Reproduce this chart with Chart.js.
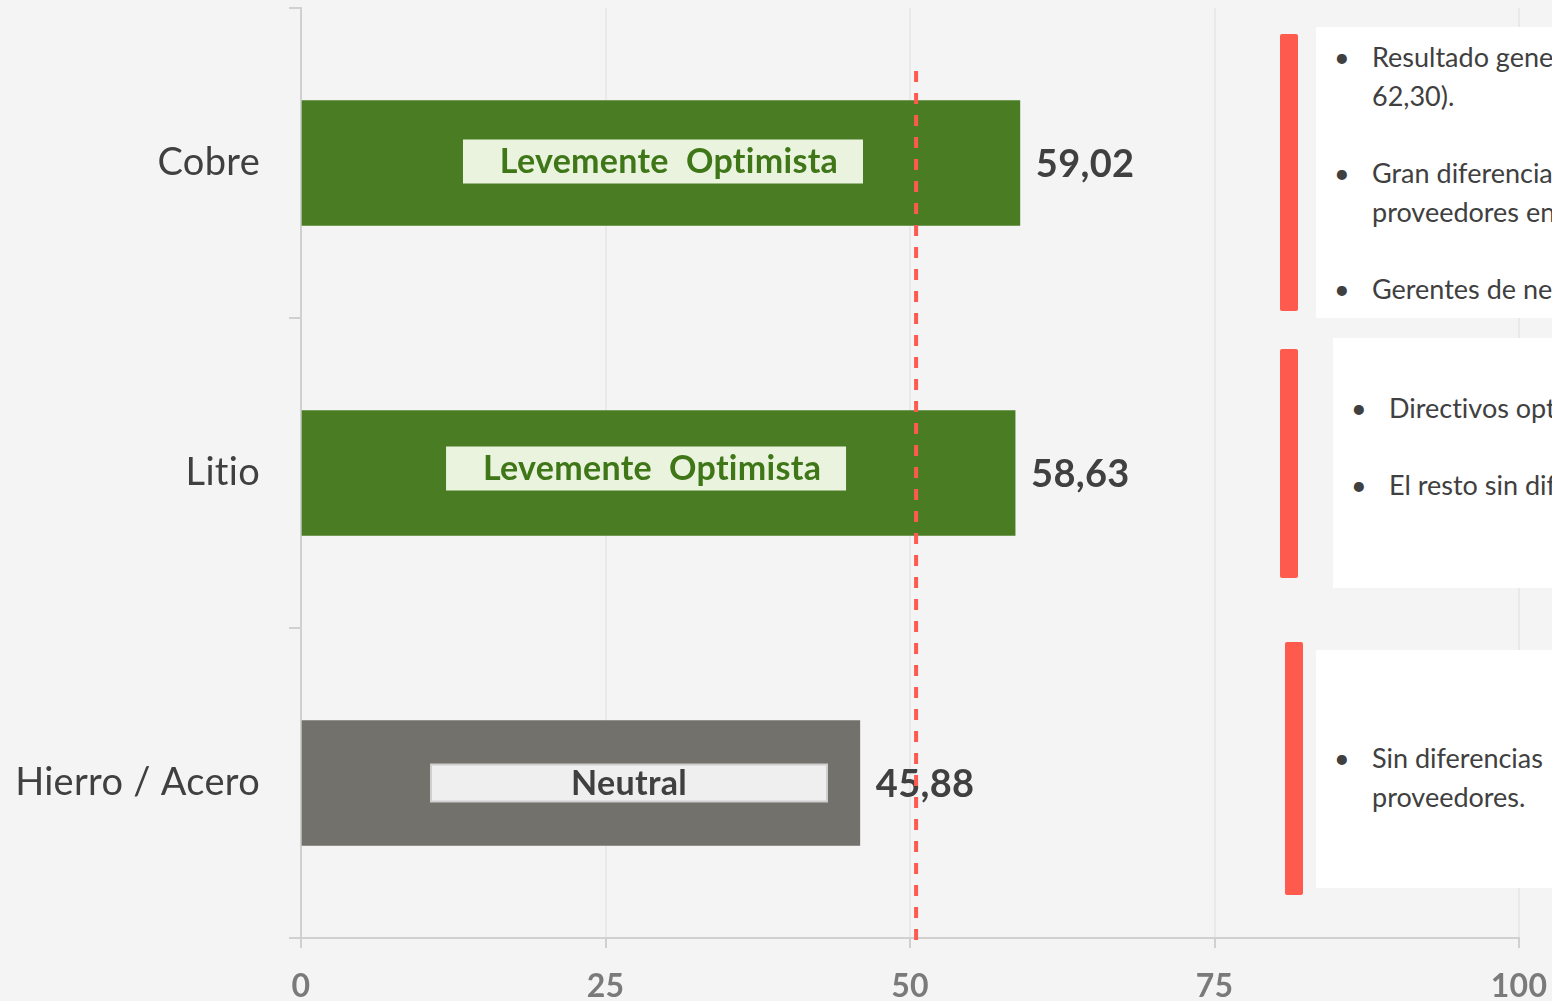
<!DOCTYPE html>
<html lang="es">
<head>
<meta charset="utf-8">
<title>Expectativas por mineral</title>
<script src="https://cdn.jsdelivr.net/npm/chart.js@4.4.1/dist/chart.umd.min.js"></script>
<style>
  html, body { margin: 0; padding: 0; background: #f4f4f4; overflow: hidden; }
  #contenedor { position: relative; width: 1552px; height: 1001px; }
  #grafico { position: absolute; left: 0; top: 0; }
  .barra-roja { position: absolute; width: 18px; background: #ff5a4e; border-radius: 2px; }
  .panel {
    position: absolute; background: #ffffff; overflow: hidden;
    font-family: Lato, "Open Sans", sans-serif; font-size: 27px; color: #404040;
    line-height: 39px; box-sizing: border-box; font-variant-ligatures: none;
  }
  .item { position: relative; padding-left: 56px; white-space: nowrap; margin-bottom: 38px; }
  .item::before { content: "•"; position: absolute; left: 18px; top: 0; }
</style>
</head>
<body>
<div id="contenedor">
  <canvas id="grafico" width="1552" height="1001"></canvas>

  <!-- Paneles de comentarios a la derecha (recortados por el borde) -->
  <div class="barra-roja" style="left:1280px; top:34px; height:277px;"></div>
  <div class="panel" style="left:1316px; top:27px; width:236px; height:291px; padding-top:10px;">
    <div class="item">Resultado general<br>62,30).</div>
    <div class="item">Gran diferencia<br>proveedores en</div>
    <div class="item">Gerentes de negocio</div>
  </div>

  <div class="barra-roja" style="left:1280px; top:349px; height:229px;"></div>
  <div class="panel" style="left:1333px; top:338px; width:219px; height:250px; padding-top:50px;">
    <div class="item">Directivos optimistas</div>
    <div class="item">El resto sin diferencias</div>
  </div>

  <div class="barra-roja" style="left:1285px; top:642px; height:253px;"></div>
  <div class="panel" style="left:1316px; top:650px; width:236px; height:238px; padding-top:88px;">
    <div class="item">Sin diferencias<br>proveedores.</div>
  </div>
</div>

<script>
// Datos del gráfico
const categorias = ["Cobre", "Litio", "Hierro / Acero"];
const valores = [59.02, 58.63, 45.88];
const calificaciones = ["Levemente  Optimista", "Levemente  Optimista", "Neutral"];
const ticksX = [0, 25, 50, 75, 100];
const valorReferencia = 50.5; // línea roja punteada

// Colores de cada barra
const coloresBarras = ["#4a7c23", "#4a7c23", "#73716c"];

// Formato con coma decimal
const formato = (v) => v.toFixed(2).replace(".", ",");

// Plugin: evita la ligadura "ti" de Lato (el original no la tiene)
const sinLigaduras = {
  id: "sinLigaduras",
  beforeDraw(chart) {
    chart.ctx.letterSpacing = "0.3px";
  },
};

// Plugin: valores al final de cada barra + caja con la calificación
const etiquetasPlugin = {
  id: "etiquetas",
  afterDatasetsDraw(chart, args, opts) {
    const { ctx, scales } = chart;
    const meta = chart.getDatasetMeta(0);
    meta.data.forEach((bar, i) => {
      ctx.save();
      // valor numérico
      ctx.font = "bold 38px Lato";
      ctx.fillStyle = "#404040";
      ctx.textAlign = "left";
      ctx.textBaseline = "middle";
      ctx.fillText(formato(valores[i]), bar.x + 16, bar.y + 2);

      // caja de calificación
      const caja = opts.cajas[i];
      const cx = scales.x.getPixelForValue(caja.centro);
      const cy = bar.y + caja.dy;
      const x0 = cx - caja.ancho / 2;
      const y0 = cy - caja.alto / 2;
      ctx.fillStyle = caja.fondo;
      ctx.fillRect(x0, y0, caja.ancho, caja.alto);
      if (caja.borde) {
        ctx.strokeStyle = caja.borde;
        ctx.lineWidth = 2;
        ctx.strokeRect(x0, y0, caja.ancho, caja.alto);
      }
      ctx.font = "bold 34px Lato";
      ctx.fillStyle = caja.texto;
      ctx.textAlign = "center";
      ctx.fillText(calificaciones[i], cx + caja.dxTexto, cy + 1);
      ctx.restore();
    });
  },
};

// Plugin: línea vertical punteada de referencia
const lineaPlugin = {
  id: "lineaReferencia",
  afterDraw(chart) {
    const { ctx, chartArea, scales } = chart;
    const x = scales.x.getPixelForValue(valorReferencia);
    ctx.save();
    ctx.strokeStyle = "#ff5a4e";
    ctx.lineWidth = 4;
    ctx.setLineDash([11, 11]);
    ctx.beginPath();
    ctx.moveTo(x, chartArea.top + 63);
    ctx.lineTo(x, chartArea.bottom + 10);
    ctx.stroke();
    ctx.restore();
  },
};

const chart = new Chart(document.getElementById("grafico"), {
  type: "bar",
  data: {
    labels: categorias,
    datasets: [
      {
        data: valores,
        backgroundColor: coloresBarras,
        borderWidth: 0,
        barThickness: 125,
      },
    ],
  },
  options: {
    indexAxis: "y",
    responsive: false,
    animation: false,
    devicePixelRatio: 1,
    layout: { padding: { top: 8, right: 33, left: 0, bottom: 0 } },
    plugins: {
      legend: { display: false },
      tooltip: { enabled: false },
      etiquetas: {
        cajas: [
          { centro: 29.72, dy: -1.5, ancho: 400, alto: 44, fondo: "#e9f3de", texto: "#3f7618", dxTexto: 6 },
          { centro: 28.33, dy: -4.5, ancho: 400, alto: 44, fondo: "#e9f3de", texto: "#3f7618", dxTexto: 6 },
          { centro: 26.93, dy: 0, ancho: 396, alto: 37, fondo: "#efefef", borde: "#cfcfcf", texto: "#404040", dxTexto: 0 },
        ],
      },
    },
    scales: {
      x: {
        min: 0,
        max: 100,
        afterBuildTicks: (scale) => {
          scale.ticks = ticksX.map((v) => ({ value: v }));
        },
        afterFit: (scale) => {
          scale.height = 63;
          scale.paddingLeft = 0;
          scale.paddingRight = 0;
        },
        grid: { color: "#e9e9e9", lineWidth: 2, tickColor: "#d0d0d0", tickLength: 10 },
        border: { color: "#d0d0d0", width: 2 },
        ticks: {
          font: { family: "Lato", size: 32, weight: "bold" },
          color: "#7a7a7a",
          padding: 19,
          maxRotation: 0,
        },
      },
      y: {
        afterFit: (scale) => {
          scale.width = 301;
          scale.paddingTop = 0;
          scale.paddingBottom = 0;
        },
        grid: { offset: true, drawOnChartArea: false, color: "#d0d0d0", lineWidth: 2, tickLength: 12 },
        border: { color: "#d0d0d0", width: 2 },
        ticks: {
          font: { family: "Lato", size: 38 },
          color: "#404040",
          padding: 29,
        },
      },
    },
  },
  plugins: [sinLigaduras, etiquetasPlugin, lineaPlugin],
});
</script>
</body>
</html>
